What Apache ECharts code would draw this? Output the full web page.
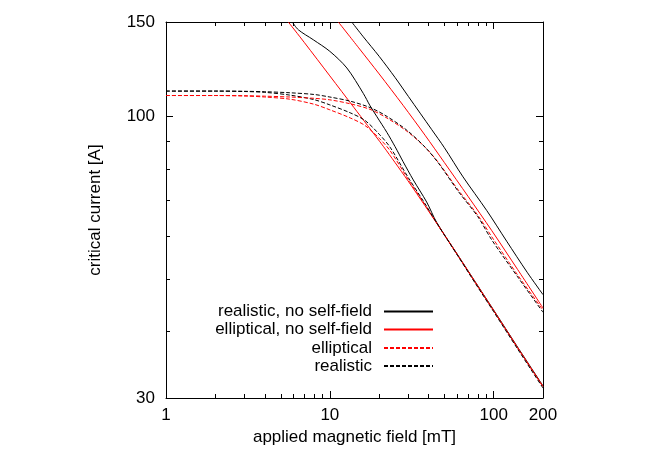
<!DOCTYPE html>
<html>
<head>
<meta charset="utf-8">
<script src="https://cdn.jsdelivr.net/npm/echarts@6/dist/echarts.min.js"></script>
<style>html,body{margin:0;padding:0;background:#fff}#c{width:654px;height:458px}</style>
</head>
<body>
<div id="c"></div>
<script>
// ---- data (x: applied field [mT], y: critical current [A]) ----
const legendNames = ['realistic, no self-field', 'elliptical, no self-field', 'elliptical', 'realistic'];

// realistic, no self-field (black solid), sample 1 (steep)
const realNoSF1_x = [5.9, 6.42, 7.93, 10, 12.7, 16, 17.6, 19.3, 22.3, 25, 28, 32.3, 39, 44.9, 60, 80, 100, 140, 200];
const realNoSF1_y = [150, 145.1, 139.0, 132.3, 123.2, 110.5, 104.8, 100.2, 93.5, 88.0, 82.5, 76.3, 69.4, 63.6, 55.5, 48.5, 43.7, 37.3, 31.6];
// realistic, no self-field (black solid), sample 2
const realNoSF2_x = [13.6, 16, 20, 25, 30.2, 41.9, 50, 65, 90.8, 120, 160, 200];
const realNoSF2_y = [150, 140.8, 129.5, 118.3, 109.0, 94.6, 87.6, 77.3, 66.9, 58.7, 51.4, 46.7];
// elliptical, no self-field (red solid), sample 1
const ellNoSF1_x = [5.58, 7, 10, 14, 17, 21.2, 25, 30, 38.1, 45, 60, 80, 100, 140, 200];
const ellNoSF1_y = [150, 137.3, 119.1, 104.1, 96.3, 88.1, 82.2, 76.0, 68.3, 63.3, 55.4, 48.4, 43.6, 37.2, 31.5];
// elliptical, no self-field (red solid), sample 2
const ellNoSF2_x = [11.27, 15, 20, 28, 38.1, 50, 70, 97.4, 140, 200];
const ellNoSF2_y = [150, 134.3, 120.1, 105.0, 92.4, 82.2, 71.0, 61.4, 52.0, 44.1];
// elliptical (red dashed), sample 1
const ell1_x = [1, 2, 3, 4, 5.7, 8, 10, 13.3, 16.4, 20, 23.3, 30, 38.1, 45, 60, 80, 100, 140, 200];
const ell1_y = [109.5, 109.5, 109.3, 108.8, 107.8, 105.5, 103.0, 99.5, 96.3, 91.2, 86.5, 76.6, 68.6, 63.4, 55.4, 48.4, 43.6, 37.2, 31.5];
// elliptical (red dashed), sample 2
const ell2_x = [1, 2, 3, 4, 5.7, 8, 10, 13.3, 17.6, 22, 29.5, 38.1, 46, 60.9, 80, 97.4, 140, 200];
const ell2_y = [109.5, 109.5, 109.4, 109.2, 108.8, 108.2, 107.5, 105.7, 103.2, 99.7, 94.0, 87.8, 82.2, 73.0, 65.6, 59.8, 50.8, 43.7];
// realistic (black dashed), sample 1
const real1_x = [1, 2, 3, 4, 5.7, 8, 10, 13.3, 16.4, 20, 23.3, 30, 38.1, 45, 60, 80, 100, 140, 200];
const real1_y = [111.6, 111.6, 111.4, 111.0, 109.7, 107.6, 105.2, 101.7, 98.4, 92.8, 87.8, 77.2, 68.9, 63.4, 55.3, 48.2, 43.4, 37.0, 31.3];
// realistic (black dashed), sample 2
const real2_x = [1, 2, 3, 4, 5.7, 8, 10, 13.3, 17.6, 22, 29.5, 38.1, 46, 60.9, 80, 97.4, 140, 200];
const real2_y = [111.6, 111.6, 111.5, 111.3, 110.8, 110.0, 108.8, 106.9, 104.0, 100.4, 94.4, 87.8, 82.0, 72.6, 65.2, 59.0, 50.4, 43.3];

// axes
const xMin = 1, xMax = 200, yMin = 30, yMax = 150;
const xMinorTicks = [2, 3, 4, 5, 6, 7, 8, 9, 20, 30, 40, 50, 60, 70, 80, 90];
const yMinorTicks = [40, 50, 60, 70, 80, 90];

// ---- chart ----
const FONT = "'Liberation Sans', Arial, Helvetica, sans-serif";
const BLACK = '#000000', RED = '#ff0000';
const zip = (xs, ys) => xs.map((x, i) => [x, ys[i]]);

function lineSeries(name, xs, ys, color, dashed) {
  return {
    type: 'line', name: name, data: zip(xs, ys),
    showSymbol: false, symbol: 'none', smooth: 0.3,
    lineStyle: { color: color, width: 1, type: dashed ? [4, 2] : 'solid' },
    itemStyle: { color: color },
    emphasis: { disabled: true }, animation: false, z: 3
  };
}

function tickSeries(vals, dir, len) {
  return {
    type: 'custom', silent: true, animation: false, clip: false, z: 4,
    data: vals.map(v => dir === 'x' ? [v, yMin] : [xMin, v]),
    renderItem: function (params, api) {
      const st = { stroke: BLACK, lineWidth: 1 };
      if (dir === 'x') {
        const v = api.value(0);
        const a = api.coord([v, yMin]), b = api.coord([v, yMax]);
        const x = Math.round(a[0]) + 0.5;
        return { type: 'group', children: [
          { type: 'line', shape: { x1: x, y1: a[1], x2: x, y2: a[1] - len }, style: st },
          { type: 'line', shape: { x1: x, y1: b[1], x2: x, y2: b[1] + len }, style: st }
        ]};
      } else {
        const v = api.value(1);
        const a = api.coord([xMin, v]), b = api.coord([xMax, v]);
        const y = Math.round(a[1]) + 0.5;
        return { type: 'group', children: [
          { type: 'line', shape: { x1: a[0], y1: y, x2: a[0] + len, y2: y }, style: st },
          { type: 'line', shape: { x1: b[0], y1: y, x2: b[0] - len, y2: y }, style: st }
        ]};
      }
    }
  };
}

const axisCommon = {
  axisLine: { show: true, lineStyle: { color: BLACK, width: 1 } },
  axisTick: { show: true, inside: true, length: 7, lineStyle: { color: BLACK, width: 1 } },
  splitLine: { show: false },
  minorTick: { show: false },
  axisLabel: { color: BLACK, fontSize: 17, fontFamily: FONT }
};

const rowCenters = [313, 331, 349.5, 367.5];
const legends = legendNames.map((n, i) => ({
  data: [n], orient: 'vertical', align: 'right', right: 220, top: rowCenters[i] - 10,
  itemWidth: 49, itemHeight: 12, padding: 0, selectedMode: false,
  itemStyle: { opacity: 0, borderWidth: 0 },
  textStyle: { color: BLACK, fontSize: 17, fontFamily: FONT, padding: [0, 7, 0, 0] }
}));

const option = {
  backgroundColor: '#ffffff',
  animation: false,
  grid: { left: 166, top: 22, width: 377, height: 376, containLabel: false },
  legend: legends,
  xAxis: [
    Object.assign({}, axisCommon, {
      type: 'log', logBase: 10, min: xMin, max: xMax, position: 'bottom',
      name: 'applied magnetic field [mT]', nameLocation: 'middle', nameGap: 30,
      nameTextStyle: { color: BLACK, fontSize: 17, fontFamily: FONT },
      axisLabel: { color: BLACK, fontSize: 17, fontFamily: FONT, margin: 9, showMinLabel: true, showMaxLabel: true }
    }),
    Object.assign({}, axisCommon, {
      type: 'log', logBase: 10, min: xMin, max: xMax, position: 'top',
      axisLabel: { show: false }
    })
  ],
  yAxis: [
    Object.assign({}, axisCommon, {
      type: 'log', logBase: 10, min: yMin, max: yMax, position: 'left',
      name: 'critical current [A]', nameLocation: 'middle', nameGap: 62, nameRotate: 90,
      nameTextStyle: { color: BLACK, fontSize: 17, fontFamily: FONT },
      axisLabel: { color: BLACK, fontSize: 17, fontFamily: FONT, margin: 11, showMinLabel: true, showMaxLabel: true }
    }),
    Object.assign({}, axisCommon, {
      type: 'log', logBase: 10, min: yMin, max: yMax, position: 'right',
      axisLabel: { show: false }
    })
  ],
  series: [
    lineSeries(legendNames[0], realNoSF1_x, realNoSF1_y, BLACK, false),
    lineSeries(legendNames[1], ellNoSF1_x, ellNoSF1_y, RED, false),
    lineSeries(legendNames[2], ell1_x, ell1_y, RED, true),
    lineSeries(legendNames[3], real1_x, real1_y, BLACK, true),
    lineSeries(legendNames[0], realNoSF2_x, realNoSF2_y, BLACK, false),
    lineSeries(legendNames[1], ellNoSF2_x, ellNoSF2_y, RED, false),
    lineSeries(legendNames[2], ell2_x, ell2_y, RED, true),
    lineSeries(legendNames[3], real2_x, real2_y, BLACK, true),
    tickSeries(xMinorTicks, 'x', 4),
    tickSeries(yMinorTicks, 'y', 4)
  ]
};

const chart = echarts.init(document.getElementById('c'), null, { renderer: 'canvas' });
chart.setOption(option);
</script>
</body>
</html>
